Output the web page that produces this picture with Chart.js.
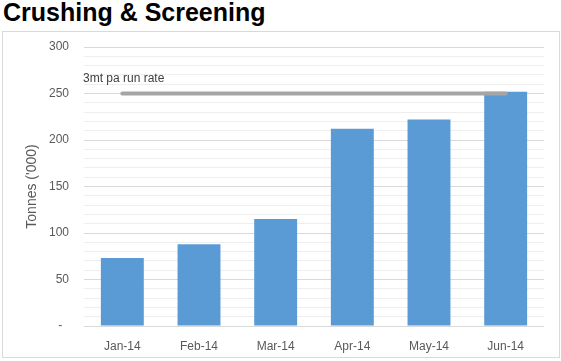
<!DOCTYPE html>
<html>
<head>
<meta charset="utf-8">
<script src="https://cdn.jsdelivr.net/npm/chart.js@4/dist/chart.umd.min.js"></script>
<style>
  html, body { margin: 0; padding: 0; background: #fff; width: 561px; height: 361px; overflow: hidden; }
  #title { position: absolute; left: 3px; top: 0px; font: bold 25px "Liberation Sans", Arial, sans-serif; line-height: 24px; color: #000; white-space: nowrap; }
  #frame { position: absolute; left: 2px; top: 31px; width: 558px; height: 327px; box-sizing: border-box; border: 1px solid #d9d9d9; }
  #c { position: absolute; left: 0; top: 0; }
</style>
</head>
<body>
<div id="title">Crushing &amp; Screening</div>
<div id="frame"></div>
<canvas id="c" width="561" height="361"></canvas>
<script>
const categories = ["Jan-14", "Feb-14", "Mar-14", "Apr-14", "May-14", "Jun-14"];
const tonnes = [73, 88, 115, 212, 222, 252];
const runRate = [250, 250, 250, 250, 250, 250];
const runRateLabel = "3mt pa run rate";
const yAxisTitle = "Tonnes ('000)";
const yMax = 300;

const runRateLabelPlugin = {
  id: 'runRateLabel',
  afterDatasetsDraw(chart) {
    const ctx = chart.ctx;
    const y = chart.scales.y.getPixelForValue(runRate[0]);
    ctx.save();
    ctx.font = '12px "Liberation Sans", Arial, sans-serif';
    ctx.fillStyle = '#404040';
    ctx.textAlign = 'left';
    ctx.textBaseline = 'middle';
    ctx.fillText(runRateLabel, chart.chartArea.left - 1, y - 15);
    ctx.restore();
  }
};

new Chart(document.getElementById('c'), {
  data: {
    labels: categories,
    datasets: [
      {
        type: 'line',
        label: 'Run rate',
        data: runRate,
        borderColor: '#a5a5a5',
        borderWidth: 4,
        borderCapStyle: 'round',
        pointRadius: 0,
        fill: false,
        order: 0
      },
      {
        type: 'bar',
        label: 'Tonnes',
        data: tonnes,
        backgroundColor: '#5b9bd5',
        categoryPercentage: 1.0,
        barPercentage: 0.56,
        order: 1
      }
    ]
  },
  options: {
    responsive: false,
    animation: false,
    layout: { padding: { left: 0, right: 17, top: 47, bottom: 0 } },
    plugins: {
      legend: { display: false },
      tooltip: { enabled: false },
      title: { display: false }
    },
    scales: {
      x: {
        grid: { display: false },
        border: { display: false },
        ticks: {
          color: '#595959',
          font: { family: '"Liberation Sans", Arial, sans-serif', size: 12 },
          padding: 5,
          maxRotation: 0
        },
        afterFit(scale) { scale.height = 35; }
      },
      y: {
        min: 0,
        max: yMax,
        grid: {
          drawTicks: false,
          color(ctx) {
            const v = ctx.tick ? ctx.tick.value : 0;
            return v % 50 === 0 ? '#d9d9d9' : '#eeeeee';
          },
          lineWidth: 1
        },
        border: { display: false },
        ticks: {
          stepSize: 10,
          autoSkip: false,
          color: '#595959',
          font: { family: '"Liberation Sans", Arial, sans-serif', size: 12 },
          padding: 15,
          callback(value) {
            if (value === 0) return '-  ';
            return value % 50 === 0 ? String(value) : '';
          }
        },
        title: {
          display: true,
          text: yAxisTitle,
          color: '#595959',
          font: { family: '"Liberation Sans", Arial, sans-serif', size: 14 },
          padding: { top: 24, bottom: 0 }
        },
        afterFit(scale) { scale.width = 84; }
      }
    }
  },
  plugins: [runRateLabelPlugin]
});
</script>
</body>
</html>
